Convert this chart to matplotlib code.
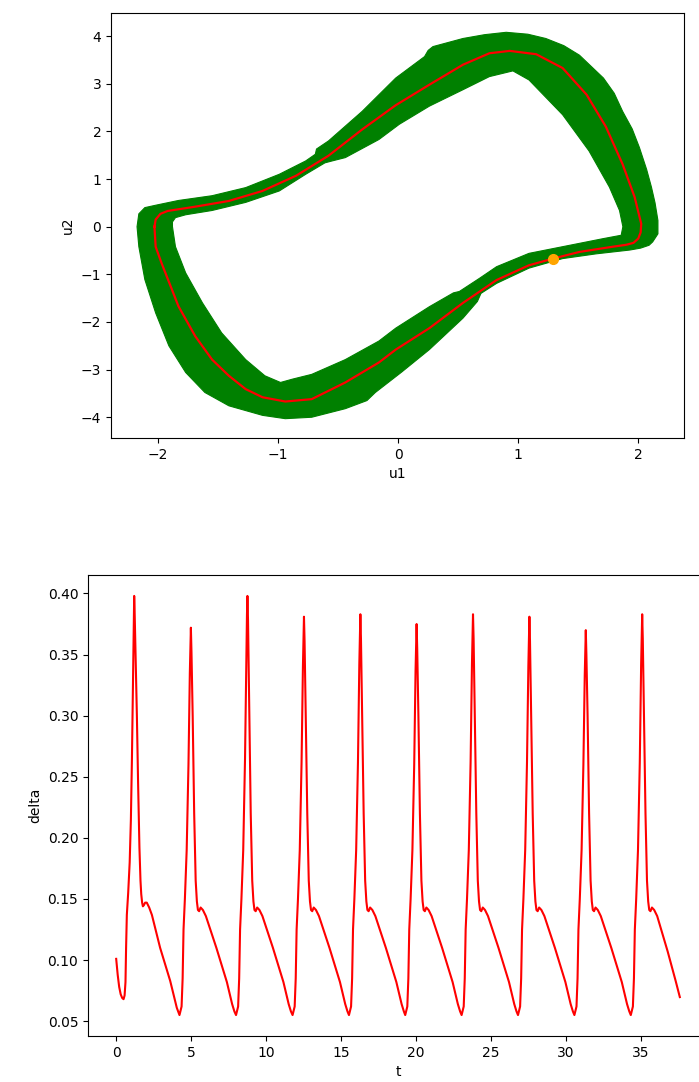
import matplotlib.pyplot as plt
from matplotlib.path import Path
from matplotlib.patches import PathPatch

# phase portrait: mean trajectory (red)
red_u1 = [-2.03, -2.02, -1.98, -1.92, -1.69, -1.41, -1.13, -0.85, -0.58, -0.30, -0.02, 0.26,
          0.54, 0.76, 0.93, 1.15, 1.37, 1.57, 1.73, 1.87, 1.97, 2.025, 2.02, 2.00, 1.96, 1.90,
          1.79, 1.51, 1.29, 1.09, 0.82, 0.54, 0.26, -0.02, -0.16, -0.44, -0.72, -0.94, -1.13,
          -1.27, -1.41, -1.55, -1.69, -1.83, -1.97, -2.02, -2.03]
red_u2 = [0.00, 0.15, 0.27, 0.33, 0.42, 0.54, 0.75, 1.07, 1.49, 2.04, 2.55, 2.98,
          3.40, 3.64, 3.69, 3.62, 3.33, 2.77, 2.10, 1.31, 0.62, 0.06, -0.12, -0.25, -0.34, -0.38,
          -0.42, -0.53, -0.67, -0.81, -1.12, -1.60, -2.13, -2.58, -2.85, -3.27, -3.62, -3.67, -3.58,
          -3.41, -3.13, -2.79, -2.30, -1.67, -0.77, -0.42, 0.00]

# uncertainty band: outer and inner edge
outer_u1 = [-2.175, -2.16, -2.11, -2.02, -1.83, -1.55, -1.27, -0.99, -0.77, -0.69, -0.68, -0.58,
            -0.30, -0.02, 0.22, 0.25, 0.29, 0.54, 0.72, 0.90, 1.08, 1.23, 1.38, 1.51, 1.71,
            1.80, 1.87, 1.95, 2.01, 2.07, 2.11, 2.14, 2.164, 2.164, 2.12, 2.09, 2.02, 1.93,
            1.65, 1.37, 1.09, 0.82, 0.69, 0.66, 0.54, 0.26, 0.03, -0.19, -0.26, -0.44, -0.72,
            -0.94, -1.13, -1.41, -1.61, -1.77, -1.91, -2.02, -2.11, -2.16]
outer_u2 = [0.00, 0.27, 0.40, 0.45, 0.55, 0.65, 0.82, 1.10, 1.38, 1.52, 1.63, 1.80,
            2.42, 3.12, 3.57, 3.70, 3.78, 3.95, 4.03, 4.08, 4.04, 3.95, 3.80, 3.60, 3.12,
            2.80, 2.42, 2.05, 1.66, 1.20, 0.83, 0.50, 0.13, -0.15, -0.32, -0.39, -0.45, -0.49,
            -0.57, -0.67, -0.87, -1.19, -1.40, -1.57, -1.92, -2.58, -3.05, -3.48, -3.65, -3.82, -4.00,
            -4.03, -3.96, -3.76, -3.48, -3.06, -2.50, -1.81, -1.11, -0.42]
inner_u1 = [-1.88, -1.88, -1.855, -1.77, -1.55, -1.27, -0.99, -0.77, -0.61, -0.55, -0.44, -0.16,
            0.01, 0.26, 0.54, 0.76, 0.956, 1.09, 1.37, 1.59, 1.76, 1.844, 1.872, 1.858, 1.71,
            1.37, 1.09, 0.82, 0.68, 0.51, 0.46, 0.26, -0.02, -0.16, -0.44, -0.72, -0.88, -0.98,
            -1.11, -1.27, -1.47, -1.63, -1.77, -1.855]
inner_u2 = [0.00, 0.10, 0.19, 0.25, 0.34, 0.51, 0.75, 1.10, 1.34, 1.38, 1.45, 1.83,
            2.15, 2.53, 2.875, 3.15, 3.27, 3.08, 2.35, 1.59, 0.83, 0.34, 0.00, -0.18, -0.25,
            -0.42, -0.56, -0.84, -1.08, -1.36, -1.39, -1.68, -2.13, -2.40, -2.79, -3.10, -3.20, -3.27,
            -3.13, -2.79, -2.23, -1.60, -0.97, -0.42]

start_u1 = [1.29]
start_u2 = [-0.67]

# delta over time
t_vals = [0.00, 0.10, 0.20, 0.30, 0.40, 0.49, 0.56, 0.62, 0.66, 0.71, 0.80, 0.90, 0.98, 1.05, 1.12, 1.17,
          1.20, 1.23, 1.30, 1.38, 1.46, 1.55, 1.62, 1.67, 1.73, 1.78, 1.85, 1.93, 2.04, 2.20, 2.38, 2.93,
          3.60, 4.04,
          4.22, 4.36, 4.43, 4.49, 4.58, 4.70, 4.82, 4.91, 4.95, 4.98, 5.02, 5.10, 5.20, 5.30, 5.38, 5.45,
          5.53, 5.63, 5.78, 5.98, 6.68, 7.38, 7.73, 7.88,
          7.99, 8.13, 8.20, 8.26, 8.35, 8.47, 8.59, 8.68, 8.72, 8.75, 8.79, 8.87, 8.97, 9.07, 9.15, 9.22,
          9.30, 9.40, 9.55, 9.75, 10.45, 11.15, 11.50, 11.65,
          11.76, 11.90, 11.97, 12.03, 12.12, 12.24, 12.36, 12.45, 12.49, 12.52, 12.56, 12.64, 12.74, 12.84,
          12.92, 12.99, 13.07, 13.17, 13.32, 13.52, 14.22, 14.92, 15.27, 15.42,
          15.52, 15.66, 15.73, 15.79, 15.88, 16.00, 16.12, 16.21, 16.25, 16.28, 16.32, 16.40, 16.50, 16.60,
          16.68, 16.75, 16.83, 16.93, 17.08, 17.28, 17.98, 18.68, 19.03, 19.18,
          19.27, 19.41, 19.48, 19.54, 19.63, 19.75, 19.87, 19.96, 20.00, 20.03, 20.07, 20.15, 20.25, 20.35,
          20.43, 20.50, 20.58, 20.68, 20.83, 21.03, 21.73, 22.43, 22.78, 22.93,
          23.03, 23.17, 23.24, 23.30, 23.39, 23.51, 23.63, 23.72, 23.76, 23.79, 23.83, 23.91, 24.01, 24.11,
          24.19, 24.26, 24.34, 24.44, 24.59, 24.79, 25.49, 26.19, 26.54, 26.69,
          26.79, 26.93, 27.00, 27.06, 27.15, 27.27, 27.39, 27.48, 27.52, 27.55, 27.59, 27.67, 27.77, 27.87,
          27.95, 28.02, 28.10, 28.20, 28.35, 28.55, 29.25, 29.95, 30.30, 30.45,
          30.55, 30.69, 30.76, 30.82, 30.91, 31.03, 31.15, 31.24, 31.28, 31.31, 31.35, 31.43, 31.53, 31.63,
          31.71, 31.78, 31.86, 31.96, 32.11, 32.31, 33.01, 33.71, 34.06, 34.21,
          34.31, 34.45, 34.52, 34.58, 34.67, 34.79, 34.91, 35.00, 35.04, 35.07, 35.11, 35.19, 35.29, 35.39,
          35.47, 35.54, 35.62, 35.72, 35.87, 36.07, 36.77, 37.30, 37.58]
delta_vals = [0.101, 0.088, 0.078, 0.072, 0.069, 0.068, 0.071, 0.082, 0.110, 0.137, 0.155, 0.180, 0.215, 0.265,
              0.330, 0.375, 0.398, 0.385, 0.345, 0.300, 0.245, 0.192, 0.165, 0.154, 0.147, 0.144, 0.145, 0.147,
              0.147, 0.143, 0.137, 0.110, 0.083, 0.061,
              0.055, 0.062, 0.085, 0.125, 0.150, 0.190, 0.260, 0.335, 0.357, 0.372, 0.352, 0.300, 0.220, 0.165,
              0.148, 0.141, 0.140, 0.143, 0.141, 0.136, 0.110, 0.082, 0.064, 0.058,
              0.055, 0.062, 0.085, 0.125, 0.150, 0.190, 0.265, 0.350, 0.383, 0.398, 0.378, 0.305, 0.220, 0.165,
              0.148, 0.141, 0.140, 0.143, 0.141, 0.136, 0.110, 0.082, 0.064, 0.058,
              0.055, 0.062, 0.085, 0.125, 0.150, 0.190, 0.262, 0.340, 0.366, 0.381, 0.361, 0.300, 0.220, 0.165,
              0.148, 0.141, 0.140, 0.143, 0.141, 0.136, 0.110, 0.082, 0.064, 0.058,
              0.055, 0.062, 0.085, 0.125, 0.150, 0.190, 0.262, 0.342, 0.368, 0.383, 0.363, 0.300, 0.220, 0.165,
              0.148, 0.141, 0.140, 0.143, 0.141, 0.136, 0.110, 0.082, 0.064, 0.058,
              0.055, 0.062, 0.085, 0.125, 0.150, 0.190, 0.260, 0.337, 0.360, 0.375, 0.355, 0.300, 0.220, 0.165,
              0.148, 0.141, 0.140, 0.143, 0.141, 0.136, 0.110, 0.082, 0.064, 0.058,
              0.055, 0.062, 0.085, 0.125, 0.150, 0.190, 0.262, 0.342, 0.368, 0.383, 0.363, 0.300, 0.220, 0.165,
              0.148, 0.141, 0.140, 0.143, 0.141, 0.136, 0.110, 0.082, 0.064, 0.058,
              0.055, 0.062, 0.085, 0.125, 0.150, 0.190, 0.262, 0.340, 0.366, 0.381, 0.361, 0.300, 0.220, 0.165,
              0.148, 0.141, 0.140, 0.143, 0.141, 0.136, 0.110, 0.082, 0.064, 0.058,
              0.055, 0.062, 0.085, 0.125, 0.150, 0.190, 0.260, 0.333, 0.355, 0.370, 0.350, 0.300, 0.220, 0.165,
              0.148, 0.141, 0.140, 0.143, 0.141, 0.136, 0.110, 0.082, 0.064, 0.058,
              0.055, 0.062, 0.085, 0.125, 0.150, 0.190, 0.262, 0.342, 0.368, 0.383, 0.363, 0.300, 0.220, 0.165,
              0.148, 0.141, 0.140, 0.143, 0.141, 0.136, 0.107, 0.083, 0.0697]

fig = plt.figure(figsize=(6.99, 10.82), dpi=100)

# top: phase plane
ax1 = fig.add_axes([0.1588, 0.5952, 0.8197, 0.3928])

outer = list(zip(outer_u1, outer_u2))
inner = list(zip(inner_u1, inner_u2))[::-1]
verts = outer + [outer[0]] + inner + [inner[0]]
codes = ([Path.MOVETO] + [Path.LINETO] * (len(outer) - 1) + [Path.CLOSEPOLY] +
         [Path.MOVETO] + [Path.LINETO] * (len(inner) - 1) + [Path.CLOSEPOLY])
ax1.add_patch(PathPatch(Path(verts, codes), facecolor='green', edgecolor='green',
                        linewidth=0.8, joinstyle='round'))

ax1.plot(red_u1, red_u2, color='red', linewidth=1.6, solid_joinstyle='round')
ax1.plot(start_u1, start_u2, 'o', color='orange', markersize=7)
ax1.autoscale_view()
ax1.set_xlabel('u1')
ax1.set_ylabel('u2')

# bottom: delta vs t (the figure crops its right side)
ax2 = fig.add_axes([0.1259, 0.0425, 0.887, 0.4261])
ax2.plot(t_vals, delta_vals, color='red', linewidth=1.5)
ax2.set_xlabel('t')
ax2.set_ylabel('delta')

plt.savefig('out.png', dpi=100)
